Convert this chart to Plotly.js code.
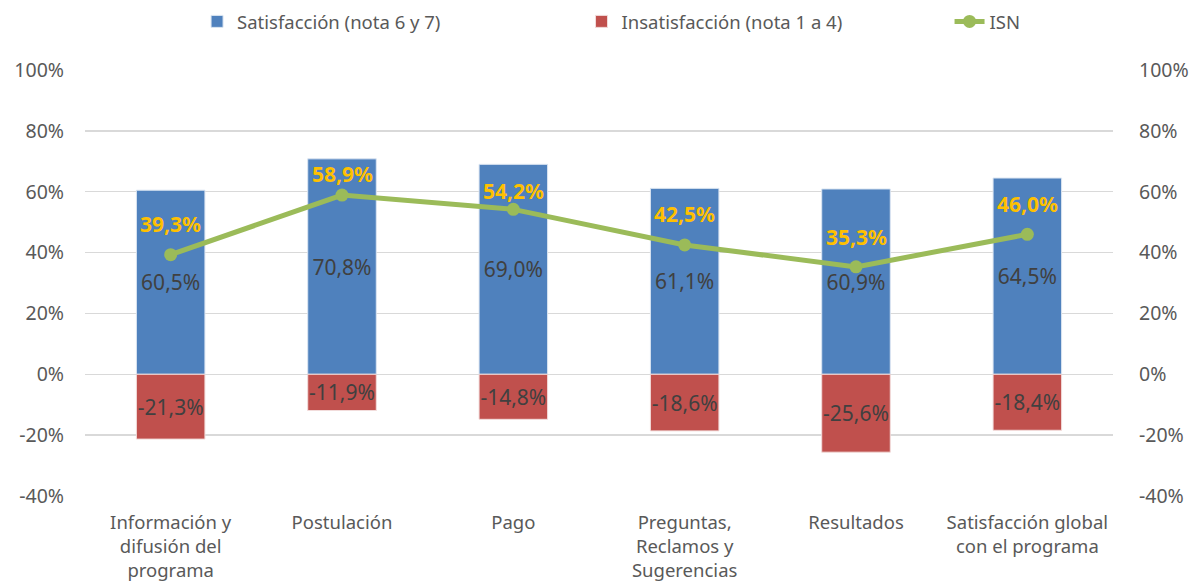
<!DOCTYPE html>
<html>
<head>
<meta charset="utf-8">
<script src="https://cdn.plot.ly/plotly-3.0.1.min.js"></script>
<style>html,body{margin:0;padding:0;background:#fff;}#chart{width:1193px;height:584px;}</style>
</head>
<body>
<div id="chart"></div>
<script>
const categories = [
  "Información y<br>difusión del<br>programa",
  "Postulación",
  "Pago",
  "Preguntas,<br>Reclamos y<br>Sugerencias",
  "Resultados",
  "Satisfacción global<br>con el programa"
];
const satisfaccion = [60.5, 70.8, 69.0, 61.1, 60.9, 64.5];
const insatisfaccion = [-21.3, -11.9, -14.8, -18.6, -25.6, -18.4];
const isn = [39.3, 58.9, 54.2, 42.5, 35.3, 46.0];
const tickVals = [-40, -20, 0, 20, 40, 60, 80, 100];
const tickText = ["-40%", "-20%", "0%", "20%", "40%", "60%", "80%", "100%"];

const FONT = "Noto Sans, Open Sans, sans-serif";

const traces = [
  {
    type: "bar", name: "Satisfacción (nota 6 y 7)", legend: "legend",
    x: categories, y: satisfaccion, width: 0.4,
    marker: {color: "#4F81BD", line: {color: "#dce6f2", width: 1}},
    texttemplate: "%{y:.1f}%", textposition: "inside", insidetextanchor: "middle",
    textangle: 0, constraintext: "none",
    textfont: {color: "#404040", size: 21, family: FONT},
    hoverinfo: "skip"
  },
  {
    type: "bar", name: "Insatisfacción (nota 1 a 4)", legend: "legend2",
    x: categories, y: insatisfaccion, width: 0.4,
    marker: {color: "#C0504D", line: {color: "#f2dcdb", width: 1}},
    texttemplate: "%{y:.1f}%", textposition: "inside", insidetextanchor: "middle",
    textangle: 0, constraintext: "none",
    textfont: {color: "#404040", size: 21, family: FONT},
    hoverinfo: "skip"
  },
  {
    type: "scatter", mode: "lines+markers", name: "ISN", legend: "legend3",
    x: categories, y: isn,
    line: {color: "#9BBB59", width: 5},
    marker: {color: "#9BBB59", size: 13},
    cliponaxis: false, hoverinfo: "skip"
  },
  {
    type: "scatter", mode: "lines", x: categories, y: isn, yaxis: "y2",
    showlegend: false, hoverinfo: "skip", line: {width: 0}, opacity: 0
  }
];

// vertical offset (px) of each ISN label above its point, as placed in the original
const labelShift = [31, 21, 18, 31, 30, 30];
const annotations = categories.map((c, i) => ({
  x: c, y: isn[i], xref: "x", yref: "y",
  text: "<b>" + isn[i].toFixed(1).replace(".", ",") + "%</b>",
  showarrow: false, yshift: labelShift[i],
  font: {color: "#FFC000", size: 21, family: FONT}
}));

const legendBase = {
  orientation: "h", y: 1.113, yanchor: "middle", xanchor: "left",
  font: {size: 18.5, color: "#595959", family: FONT}, bgcolor: "rgba(0,0,0,0)"
};

const layout = {
  width: 1193, height: 584,
  margin: {l: 85, r: 80, t: 70, b: 88, autoexpand: false},
  paper_bgcolor: "#fff", plot_bgcolor: "#fff",
  separators: ",.",
  barmode: "relative",
  font: {family: FONT, color: "#595959", size: 18},
  showlegend: true,
  legend: Object.assign({}, legendBase, {x: 0.109}),
  legend2: Object.assign({}, legendBase, {x: 0.483}),
  legend3: Object.assign({}, legendBase, {x: 0.841}),
  annotations: annotations,
  xaxis: {
    tickfont: {size: 18.5, color: "#595959"},
    showgrid: false, zeroline: false, showline: false, ticks: "",
    ticklabelstandoff: 13
  },
  yaxis: {
    range: [-40, 100], tickmode: "array", tickvals: tickVals, ticktext: tickText,
    gridcolor: "#d9d9d9", gridwidth: 1.3, zeroline: false, showline: false,
    tickfont: {size: 19.5, color: "#595959"}, ticklabelstandoff: 20
  },
  yaxis2: {
    overlaying: "y", side: "right", range: [-40, 100], tickmode: "array", tickvals: tickVals, ticktext: tickText,
    showgrid: false, zeroline: false, showline: false,
    tickfont: {size: 19.5, color: "#595959"}, ticklabelstandoff: 25
  }
};

Plotly.newPlot("chart", traces, layout, {displayModeBar: false, staticPlot: true});
</script>
</body>
</html>
